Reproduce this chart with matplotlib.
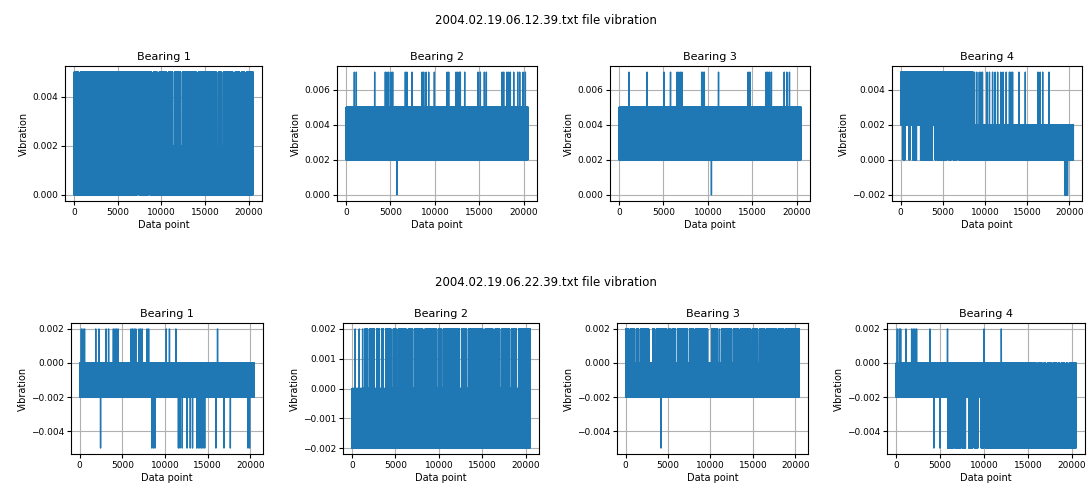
import numpy as np
import matplotlib
matplotlib.use("Agg")
import matplotlib.pyplot as plt

N = 20480  # samples per file

files = ["2004.02.19.06.12.39.txt", "2004.02.19.06.22.39.txt"]
bearings = ["Bearing 1", "Bearing 2", "Bearing 3", "Bearing 4"]

# y ticks shown on each panel
f1_yticks = [[0.000, 0.002, 0.004], [0.000, 0.002, 0.004, 0.006],
             [0.000, 0.002, 0.004, 0.006], [-0.002, 0.000, 0.002, 0.004]]
f2_yticks = [[-0.004, -0.002, 0.000, 0.002], [-0.002, -0.001, 0.000, 0.001, 0.002],
             [-0.004, -0.002, 0.000, 0.002], [-0.004, -0.002, 0.000, 0.002]]

# each panel: segments (start, end, levels the signal keeps switching between)
# and single-sample spikes (position, value); later entries overwrite earlier ones

# ---- file 1 : 06.12.39 ----
f1_b1_segments = [(0, N, [0.000, 0.005])]
f1_b1_gaps_top = [500, 8870, 9516, 10582, 11267, 12180, 13990, 16290, 16860, 18190, 18950, 19520]
f1_b1_gaps_low = [7230, 8490]

f1_b2_segments = [(0, N, [0.002, 0.005])]
f1_b2_up = [929, 1154, 3219, 4420, 4608, 4796, 5059, 5247, 6674, 6862, 7425, 8551, 8739, 9002,
            9302, 9941, 11368, 11556, 12382, 12569, 12757, 12870, 13358, 14860, 15123, 15573,
            15799, 17563, 17751, 18127, 18315, 18503, 18878, 19328, 19554, 19930, 20193]
f1_b2_down = [5735]

f1_b3_segments = [(0, N, [0.002, 0.005])]
f1_b3_up = [1107, 3137, 5055, 5793, 6531, 6716, 6900, 7085, 9300, 9450, 9600, 11200,
            14540, 14760, 16570, 16750, 16940, 17160, 18600, 18890, 19190]
f1_b3_down = [10400]

f1_b4_segments = [(0, 4300, [0.002, 0.005]), (4300, 8600, [0.000, 0.005]),
                  (8600, N, [0.000, 0.002]),
                  (300, 530, [0.000, 0.005]), (1000, 1100, [0.000, 0.005]),
                  (1430, 1880, [0.000, 0.005]), (2370, 2860, [0.000, 0.005]),
                  (2930, 3760, [0.000, 0.005]), (4100, 4200, [0.000, 0.005]),
                  (5490, 5690, [0.002, 0.005]), (6020, 6220, [0.002, 0.005]),
                  (6690, 6890, [0.002, 0.005]),
                  (19450, 19800, [-0.002, 0.002])]
f1_b4_up = [8760, 9020, 9325, 9510, 9700, 10260, 10530, 10900, 11200, 11500, 11880, 12150,
            12520, 12900, 13080, 13270, 14020, 14780, 16280, 16540, 16840, 17600]

# ---- file 2 : 06.22.39 ----
f2_b1_segments = [(0, N, [-0.002, 0.000])]
f2_b1_up = [188, 376, 564, 1880, 2256, 2444, 3083, 3384, 3948, 4136, 4324, 4512, 6016, 6204,
            6392, 6580, 6956, 7144, 7332, 7896, 8084, 10152, 10528, 11280, 14100, 14288, 14476,
            15980, 16168, 16920]
f2_b1_down = [2444, 8460, 8648, 8836, 11580, 11768, 12032, 12596, 12972, 13235, 13724, 13912,
              14100, 14288, 14476, 14664, 15980, 16920, 17672, 19740, 19928]

f2_b2_segments = [(0, 1500, [-0.002, 0.000]), (1500, N, [-0.002, 0.002])]
f2_b2_up = [380, 840, 1230]
f2_b2_gaps_top = [1805, 2573, 3149, 3610, 4493, 5069, 6221, 6912, 8141, 9677, 10253, 12365,
                  13133, 15053, 16205, 16973, 18125, 18893]

f2_b3_segments = [(0, N, [-0.002, 0.002])]
f2_b3_gaps_top = [379, 1061, 1516, 2729, 2950, 3411, 4851, 5230, 5874, 7277, 7959, 9666, 9900,
                  10803, 11050, 12507, 13265, 14705, 15539, 16411, 17737, 18571]
f2_b3_down = [4170]

f2_b4_segments = [(0, N, [-0.002, 0.000]),
                  (5900, 6500, [-0.005, 0.000]), (6700, 7300, [-0.005, 0.000]),
                  (7500, 7900, [-0.005, 0.000]), (8300, 8700, [-0.005, 0.000]),
                  (8900, 9300, [-0.005, 0.000]), (9700, 10000, [-0.005, 0.000]),
                  (10200, N, [-0.005, 0.000])]
f2_b4_up = [150, 380, 530, 1130, 1780, 1970, 2150, 2340, 3860, 5860, 10020, 11980]
f2_b4_down = [4310, 4990]
f2_b4_gaps_top = [15950, 16630, 17010, 17650, 18220, 18600, 19160, 19540]


def build(segments, spikes=()):
    y = np.zeros(N)
    for start, end, levels in segments:
        idx = np.arange(start, end)
        y[start:end] = np.array(levels)[idx % len(levels)]
    for pos, val in spikes:
        y[pos] = val
    return y


def gaps(positions, levels, width=220):
    return [(p, p + width, levels) for p in positions]


signals = [
    [build(f1_b1_segments + gaps(f1_b1_gaps_top, [0.000, 0.002]) + gaps(f1_b1_gaps_low, [0.002, 0.005])),
     build(f1_b2_segments, [(p, 0.007) for p in f1_b2_up] + [(p, 0.000) for p in f1_b2_down]),
     build(f1_b3_segments, [(p, 0.007) for p in f1_b3_up] + [(p, 0.000) for p in f1_b3_down]),
     build(f1_b4_segments, [(p, 0.005) for p in f1_b4_up])],
    [build(f2_b1_segments, [(p, 0.002) for p in f2_b1_up] + [(p, -0.005) for p in f2_b1_down]),
     build(f2_b2_segments + gaps(f2_b2_gaps_top, [-0.002, 0.000], 260), [(p, 0.002) for p in f2_b2_up]),
     build(f2_b3_segments + gaps(f2_b3_gaps_top, [-0.002, 0.000], 240), [(p, -0.005) for p in f2_b3_down]),
     build(f2_b4_segments + gaps(f2_b4_gaps_top, [-0.005, -0.002], 200),
           [(p, 0.002) for p in f2_b4_up] + [(p, -0.005) for p in f2_b4_down])],
]
yticks = [f1_yticks, f2_yticks]

W, H = 1091, 491
fig = plt.figure(figsize=(W / 100, H / 100), dpi=100)

# axes boxes in pixels: (left, right) per column, (top, bottom) per row
cols = [[(65, 262), (337, 537), (610, 810), (892, 1082)],
        [(71, 263), (343, 539), (617, 808), (887, 1085)]]
rows = [(66, 201), (323, 454)]
title_y = [20, 283]

x = np.arange(N)
for r in range(2):
    fig.text(0.5, 1 - title_y[r] / H, files[r] + " file vibration", ha="center", va="center", fontsize=8.5)
    top, bot = rows[r]
    for c in range(4):
        l, rr = cols[r][c]
        ax = fig.add_axes([l / W, 1 - bot / H, (rr - l) / W, (bot - top) / H])
        ax.plot(x, signals[r][c], color="#1f77b4", lw=1.0)
        ax.set_title(bearings[c], fontsize=8, pad=4)
        ax.set_xlabel("Data point", fontsize=7, labelpad=2)
        ax.set_ylabel("Vibration", fontsize=7, labelpad=2)
        ax.tick_params(labelsize=6.5, length=3, pad=2)
        ax.set_xticks([0, 5000, 10000, 15000, 20000])
        ax.set_yticks(yticks[r][c])
        ax.grid(True)

fig.savefig("out.png", dpi=100)
